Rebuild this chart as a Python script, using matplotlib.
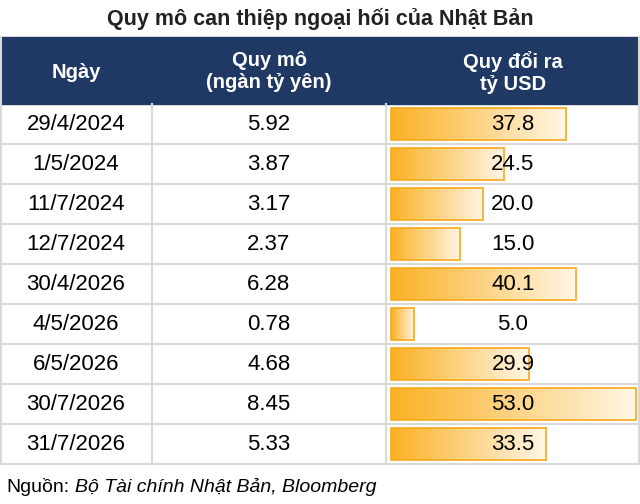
import matplotlib.pyplot as plt
import numpy as np
from matplotlib.colors import LinearSegmentedColormap
from matplotlib.patches import Rectangle

plt.rcParams["font.family"] = ["Liberation Sans", "DejaVu Sans"]

dates = ["29/4/2024", "1/5/2024", "11/7/2024", "12/7/2024", "30/4/2026",
         "4/5/2026", "6/5/2026", "30/7/2026", "31/7/2026"]
yen_trillion = [5.92, 3.87, 3.17, 2.37, 6.28, 0.78, 4.68, 8.45, 5.33]
usd_billion = [37.8, 24.5, 20.0, 15.0, 40.1, 5.0, 29.9, 53.0, 33.5]

W, H = 640, 504
fig = plt.figure(figsize=(W / 100, H / 100), dpi=100)
ax = fig.add_axes([0, 0, 1, 1])
ax.set_xlim(0, W)
ax.set_ylim(H, 0)
ax.axis("off")

navy = "#1f3864"
grid = "#d9d9d9"
col_x = [0, 152, 386, 640]
head_top, head_bot = 37, 104
row_h = 40
n = len(dates)
table_bot = head_bot + n * row_h

ax.text(W / 2, 19, "Quy mô can thiệp ngoại hối của Nhật Bản", ha="center",
        va="center", fontsize=15.5, fontweight="bold", color="#222222")
ax.add_patch(Rectangle((0, head_top), W, head_bot - head_top, color=navy))
ax.text(76, 72, "Ngày", ha="center", va="center", color="white",
        fontsize=14.5, fontweight="bold")
ax.text(269, 72, "Quy mô\n(ngàn tỷ yên)", ha="center", va="center",
        color="white", fontsize=14.5, fontweight="bold", linespacing=1.2)
ax.text(513, 72, "Quy đổi ra\ntỷ USD", ha="center", va="center",
        color="white", fontsize=14.5, fontweight="bold", linespacing=1.2)

cmap = LinearSegmentedColormap.from_list("bar", ["#fbb124", "#fff6e6"])
grad = np.linspace(0, 1, 256).reshape(1, -1)
bar_x0, bar_max = 391, 245 / 53.0

for i in range(n):
    y0 = head_bot + i * row_h
    yc = y0 + row_h / 2
    ax.plot([0, W], [y0 + row_h, y0 + row_h], color=grid, lw=1.5)
    ax.text(76, yc, dates[i], ha="center", va="center", fontsize=16)
    ax.text(269, yc, f"{yen_trillion[i]:.2f}", ha="center", va="center", fontsize=16)
    bw = usd_billion[i] * bar_max
    ax.imshow(grad, cmap=cmap, aspect="auto", interpolation="bilinear",
              extent=(bar_x0, bar_x0 + bw, y0 + row_h - 4, y0 + 4), zorder=2)
    ax.add_patch(Rectangle((bar_x0, y0 + 4), bw, row_h - 8, fill=False,
                           ec="#f7a81b", lw=1.2, zorder=3))
    ax.text(513, yc, f"{usd_billion[i]:.1f}", ha="center", va="center",
            fontsize=16, zorder=4)

for x in col_x[1:3]:
    ax.plot([x, x], [head_bot, table_bot], color=grid, lw=1.5)
ax.plot([1, 1], [head_top, table_bot], color=grid, lw=1.5)
ax.plot([W - 1, W - 1], [head_top, table_bot], color=grid, lw=1.5)
ax.set_xlim(0, W)
ax.set_ylim(H, 0)

src = ax.text(6, 487, "Nguồn:", ha="left", va="center", fontsize=14)
ax.annotate("Bộ Tài chính Nhật Bản, Bloomberg", xy=(1, 0.5), xycoords=src,
            xytext=(4, 0), textcoords="offset points", ha="left", va="center",
            fontsize=14, style="italic")

fig.savefig("out.png", dpi=100)
